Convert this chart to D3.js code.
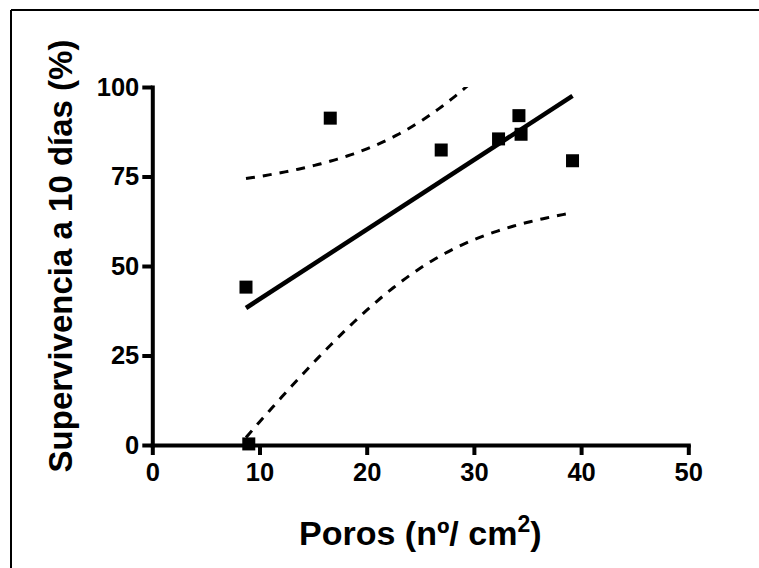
<!DOCTYPE html>
<html><head><meta charset="utf-8">
<script src="https://cdn.jsdelivr.net/npm/d3@7"></script>
<style>
body{margin:0;background:#fff}
svg{display:block}
text{font-family:"Liberation Sans",Arial,Helvetica,sans-serif;font-weight:bold;fill:#000}
</style>
</head><body>
<svg id="c" width="759" height="568"></svg>
<script>
// Data
const poros = [8.74, 9.0, 16.6, 26.95, 32.3, 34.2, 34.4, 39.2];
const supervivencia = [44.1, 0.3, 91.3, 82.4, 85.5, 92.0, 86.8, 79.4];
const xTicks = [0, 10, 20, 30, 40, 50];
const yTicks = [0, 25, 50, 75, 100];
const xTitle = "Poros (nº/ cm";
const yTitle = "Supervivencia a 10 días (%)";
const tCrit = 2.447; // t(0.975, df=6) for the 95% band

const svg = d3.select("#c");
const x = d3.scaleLinear().domain([0, 50]).range([152.3, 688.3]);
const y = d3.scaleLinear().domain([0, 100]).range([445, 87]);

// frame (only top & left visible)
svg.append("line").attr("x1", 11).attr("y1", 10).attr("x2", 759).attr("y2", 10).attr("stroke", "#000").attr("stroke-width", 2);
svg.append("line").attr("x1", 11).attr("y1", 10).attr("x2", 11).attr("y2", 568).attr("stroke", "#000").attr("stroke-width", 2);

// regression
const n = poros.length;
const mx = d3.mean(poros), my = d3.mean(supervivencia);
const sxx = d3.sum(poros, v => (v - mx) ** 2);
const sxy = d3.sum(poros.map((v, i) => (v - mx) * (supervivencia[i] - my)));
const b = sxy / sxx, a = my - b * mx;
const sse = d3.sum(poros.map((v, i) => (supervivencia[i] - (a + b * v)) ** 2));
const s = Math.sqrt(sse / (n - 2));
const x0 = d3.min(poros), x1 = d3.max(poros);
const samples = d3.range(0, 101).map(k => x0 + (x1 - x0) * k / 100);
const band = samples.map(v => {
  const h = tCrit * s * Math.sqrt(1 / n + (v - mx) ** 2 / sxx);
  const p = a + b * v;
  return {x: v, lo: p - h, hi: p + h};
});

svg.append("defs").append("clipPath").attr("id", "clip")
  .append("rect").attr("x", x(0)).attr("y", y(100)).attr("width", x(50) - x(0)).attr("height", y(0) - y(100) + 20);

const g = svg.append("g").attr("clip-path", "url(#clip)");
const lineHi = d3.line().x(d => x(d.x)).y(d => y(d.hi));
const lineLo = d3.line().x(d => x(d.x)).y(d => y(d.lo));
g.append("path").attr("d", lineHi(band)).attr("fill", "none").attr("stroke", "#000").attr("stroke-width", 3).attr("stroke-dasharray", "9,8");
g.append("path").attr("d", lineLo(band)).attr("fill", "none").attr("stroke", "#000").attr("stroke-width", 3).attr("stroke-dasharray", "9,8");
svg.append("line").attr("x1", x(x0)).attr("y1", y(a + b * x0)).attr("x2", x(x1)).attr("y2", y(a + b * x1))
  .attr("stroke", "#000").attr("stroke-width", 4.5);

// axes
const ax = svg.append("g").attr("transform", `translate(0,${y(0)})`)
  .call(d3.axisBottom(x).tickValues(xTicks).tickSize(10).tickSizeOuter(0).tickPadding(8));
const ay = svg.append("g").attr("transform", `translate(${x(0)},0)`)
  .call(d3.axisLeft(y).tickValues(yTicks).tickSize(10).tickSizeOuter(0).tickPadding(3));
[ax, ay].forEach(gg => {
  gg.select(".domain").attr("stroke", "#000").attr("stroke-width", 4).attr("stroke-linecap", "square");
  gg.selectAll(".tick line").attr("stroke", "#000").attr("stroke-width", 4);
  gg.selectAll(".tick text").attr("font-size", 25.5).attr("font-family", "Liberation Sans, Arial, sans-serif").attr("font-weight", "bold").attr("fill", "#000");
});

// points
svg.append("g").selectAll("rect").data(poros).join("rect")
  .attr("x", (d) => x(d) - 6.5).attr("y", (d, i) => y(supervivencia[i]) - 6.5)
  .attr("width", 13).attr("height", 13).attr("fill", "#000");

// titles
const xt = svg.append("text").attr("x", x(25)).attr("y", 545).attr("text-anchor", "middle").attr("font-size", 34);
xt.append("tspan").text(xTitle);
xt.append("tspan").text("2").attr("font-size", 23).attr("dy", -13);
xt.append("tspan").text(")").attr("dy", 13);

svg.append("text").attr("transform", `translate(72,${256}) rotate(-90)`).attr("text-anchor", "middle")
  .attr("font-size", 33).text(yTitle);
</script>
</body></html>
